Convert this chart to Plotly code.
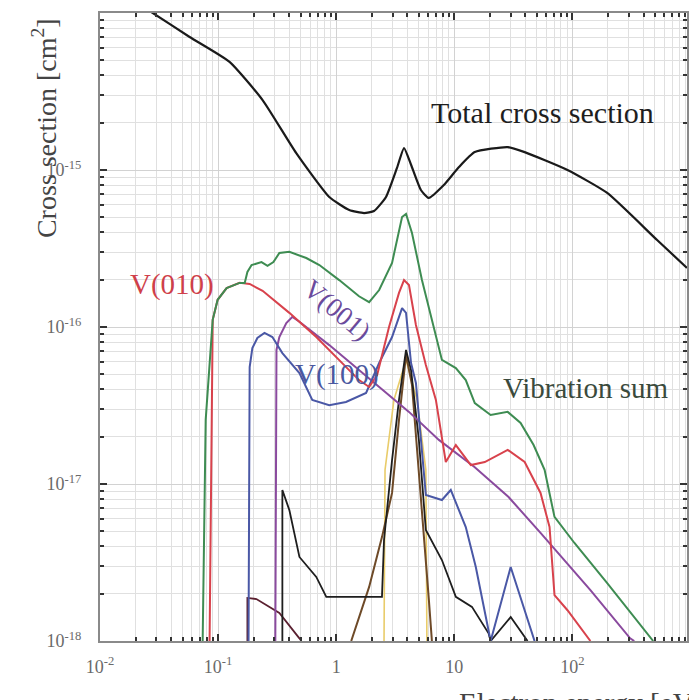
import plotly.graph_objects as go

# Electron energy [eV] and cross sections [cm^2] for each curve
total_e = [0.0201, 0.0280, 0.0574, 0.125, 0.238, 0.459, 0.873, 1.29, 1.72, 2.09, 2.64, 3.27,
           3.75, 4.30, 5.21, 6.09, 8.15, 10.9, 14.9, 28.3, 39.4, 90.8, 197, 521, 933]
total_s = [1.17e-14, 1.00e-14, 7.03e-15, 4.88e-15, 2.79e-15, 1.28e-15, 6.73e-16, 5.56e-16,
           5.32e-16, 5.48e-16, 6.73e-16, 1.03e-15, 1.38e-15, 1.08e-15, 7.46e-16, 6.64e-16,
           8.02e-16, 1.04e-15, 1.30e-15, 1.40e-15, 1.30e-15, 1.00e-15, 7.14e-16, 3.58e-16, 2.38e-16]

vsum_e = [0.0740, 0.0785, 0.0900, 0.0991, 0.118, 0.152, 0.168, 0.177, 0.192, 0.233, 0.262,
          0.294, 0.330, 0.401, 0.558, 0.720, 1.06, 1.56, 1.90, 2.31, 2.97, 3.61, 3.90, 4.38,
          5.32, 6.09, 7.85, 10.3, 12.5, 14.9, 20.3, 28.3, 36.4, 46.9, 58.1, 70.5, 104, 197, 483]
vsum_s = [1.0e-18, 2.56e-17, 1.11e-16, 1.49e-16, 1.77e-16, 1.91e-16, 1.91e-16, 2.24e-16,
          2.48e-16, 2.59e-16, 2.45e-16, 2.59e-16, 2.96e-16, 3.01e-16, 2.75e-16, 2.48e-16,
          1.99e-16, 1.57e-16, 1.44e-16, 1.72e-16, 2.56e-16, 5.02e-16, 5.25e-16, 3.97e-16,
          1.99e-16, 1.34e-16, 6.17e-17, 5.48e-17, 4.59e-17, 3.28e-17, 2.75e-17, 2.88e-17,
          2.45e-17, 1.77e-17, 1.23e-17, 6.17e-18, 4.21e-18, 2.34e-18, 1.0e-18]

v010_e = [0.0847, 0.0881, 0.0900, 0.0991, 0.118, 0.152, 0.185, 0.238, 0.401, 0.678, 1.06,
          1.56, 1.90, 2.22, 2.80, 3.40, 3.75, 4.13, 4.73, 5.74, 6.98, 7.85, 8.47, 10.3, 13.8,
          18.1, 28.3, 39.4, 53.7, 64.0, 70.5, 90.8, 142]
v010_s = [1.0e-18, 2.56e-17, 1.11e-16, 1.49e-16, 1.77e-16, 1.91e-16, 1.88e-16, 1.70e-16,
          1.23e-16, 8.63e-17, 6.17e-17, 4.59e-17, 4.15e-17, 4.94e-17, 1.0e-16, 1.65e-16,
          1.99e-16, 1.85e-16, 1.03e-16, 5.73e-17, 3.43e-17, 2.05e-17, 1.38e-17, 1.77e-17,
          1.32e-17, 1.38e-17, 1.65e-17, 1.38e-17, 8.77e-18, 5.32e-18, 1.96e-18, 1.57e-18, 1.0e-18]

v100_e = [0.181, 0.185, 0.195, 0.215, 0.247, 0.288, 0.350, 0.488, 0.627, 0.873, 1.21, 1.79,
          2.31, 2.97, 3.61, 3.90, 4.30, 4.73, 5.74, 7.85, 9.33, 12.5, 15.2, 20.3, 30.0, 47.8]
v100_s = [1.0e-18, 5.56e-17, 7.35e-17, 8.51e-17, 9.16e-17, 8.63e-17, 6.82e-17, 5.09e-17,
          3.43e-17, 3.18e-17, 3.33e-17, 3.80e-17, 5.90e-17, 8.63e-17, 1.32e-16, 1.23e-16,
          5.90e-17, 4.40e-17, 8.51e-18, 7.91e-18, 9.16e-18, 5.32e-18, 2.96e-18, 1.0e-18,
          2.96e-18, 1.0e-18]

v001_e = [0.305, 0.312, 0.330, 0.378, 0.426, 0.488, 0.873, 1.90, 4.13, 7.40, 14.9, 28.8,
          53.7, 142, 308, 334]
v001_s = [1.0e-18, 7.14e-17, 8.63e-17, 1.06e-16, 1.16e-16, 1.08e-16, 7.67e-17, 4.73e-17,
          2.88e-17, 1.91e-17, 1.28e-17, 8.26e-18, 4.88e-18, 2.11e-18, 1.04e-18, 1.0e-18]

# Higher vibrational levels (thin curves near the bottom)
vb_e = [0.350, 0.350, 0.401, 0.488, 0.678, 0.824, 2.44, 2.54, 2.97, 3.40, 3.90, 4.30, 5.01,
        5.74, 7.85, 10.3, 14.1, 19.5, 20.3, 30.0, 41.7]
vb_s = [1.0e-18, 9.16e-18, 6.82e-18, 3.43e-18, 2.56e-18, 1.91e-18, 1.91e-18, 4.40e-18,
        1.42e-17, 3.43e-17, 7.14e-17, 5.32e-17, 1.91e-17, 5.09e-18, 3.28e-18, 1.91e-18,
        1.65e-18, 1.12e-18, 1.0e-18, 1.42e-18, 1.0e-18]

vbr_e = [1.34, 1.90, 2.44, 2.97, 3.40, 3.90, 4.38, 5.01, 5.53, 6.09, 6.46]
vbr_s = [1.0e-18, 2.21e-18, 4.59e-18, 8.77e-18, 2.56e-17, 6.64e-17, 4.28e-17, 1.23e-17,
         4.40e-18, 1.82e-18, 1.0e-18]

vy_e = [2.54, 2.59, 3.08, 3.90, 4.83, 5.74, 5.86]
vy_s = [1.0e-18, 1.23e-17, 3.43e-17, 6.17e-17, 3.43e-17, 1.23e-17, 1.0e-18]

vm_e = [0.177, 0.177, 0.211, 0.330, 0.488, 0.507]
vm_s = [1.0e-18, 1.88e-18, 1.85e-18, 1.51e-18, 1.04e-18, 1.0e-18]

x_ticks = [0.01, 0.1, 1, 10, 100]
x_ticktext = ["10<sup>-2</sup>", "10<sup>-1</sup>", "1", "10", "10<sup>2</sup>"]
y_ticks = [1e-18, 1e-17, 1e-16, 1e-15, 1e-14]
y_ticktext = ["10<sup>-18</sup>", "10<sup>-17</sup>", "10<sup>-16</sup>", "10<sup>-15</sup>", ""]

SERIF = "Liberation Serif, Times New Roman, serif"

fig = go.Figure()

curves = [
    (vy_e, vy_s, "#e9cc6a", 1.6, "linear"),
    (vm_e, vm_s, "#5a2030", 1.8, "linear"),
    (vbr_e, vbr_s, "#6e4a28", 2.0, "linear"),
    (vb_e, vb_s, "#1e1e1e", 1.8, "linear"),
    (v001_e, v001_s, "#8a4a9e", 2.0, "linear"),
    (v100_e, v100_s, "#4a58a6", 2.0, "linear"),
    (v010_e, v010_s, "#d8424c", 2.0, "linear"),
    (vsum_e, vsum_s, "#3e8c52", 2.0, "linear"),
    (total_e, total_s, "#1a1a1a", 2.2, "spline"),
]
for xe, ys, col, w, shp in curves:
    fig.add_trace(go.Scatter(x=xe, y=ys, mode="lines",
                             line=dict(color=col, width=w, shape=shp, smoothing=0.5),
                             showlegend=False, hoverinfo="skip"))

minor_x = [d * 10.0 ** k for k in range(-2, 3) for d in range(2, 10)]
minor_y = [d * 10.0 ** k for k in range(-18, -14) for d in range(2, 10)]

axis_common = dict(
    type="log",
    showline=True, linecolor="#8a8a8a", linewidth=2,
    mirror="allticks",
    ticks="inside", ticklen=7, tickwidth=1.5, tickcolor="#333333",
    showgrid=True, gridcolor="#d2d2d2", gridwidth=1,
    zeroline=False,
    tickfont=dict(family=SERIF, size=18, color="#6a6a6a"),
)

fig.update_xaxes(
    **axis_common,
    range=[-2, 2.970],
    tickmode="array", tickvals=x_ticks, ticktext=x_ticktext,
    ticklabelstandoff=8,
    minor=dict(tickmode="array", tickvals=minor_x, ticks="inside", ticklen=4,
               tickcolor="#333333", showgrid=True, gridcolor="#e0e0e0", gridwidth=1),
)
fig.update_yaxes(
    **axis_common,
    range=[-18, -14],
    tickmode="array", tickvals=y_ticks, ticktext=y_ticktext,
    ticklabelstandoff=13,
    minor=dict(tickmode="array", tickvals=minor_y, ticks="inside", ticklen=4,
               tickcolor="#333333", showgrid=True, gridcolor="#e0e0e0", gridwidth=1),
)

annotations = [
    dict(text="Total cross section", x=0.754, y=0.841, color="#1e1e1e", size=30, angle=0),
    dict(text="V(010)", x=0.122, y=0.567, color="#cf3f4a", size=29, angle=0),
    dict(text="V(001)", x=0.404, y=0.527, color="#6a4a9c", size=27, angle=40),
    dict(text="V(100)", x=0.404, y=0.425, color="#4a58a0", size=29, angle=0),
    dict(text="Vibration sum", x=0.827, y=0.403, color="#3a4a3c", size=29, angle=0),
]
for a in annotations:
    fig.add_annotation(text=a["text"], x=a["x"], y=a["y"], xref="paper", yref="paper",
                       xanchor="center", yanchor="middle",
                       showarrow=False, textangle=a["angle"],
                       font=dict(family=SERIF, size=a["size"], color=a["color"]))

# Axis titles
fig.add_annotation(text="Cross section [cm<sup>2</sup>]", x=-0.0934, y=0.817,
                   xref="paper", yref="paper", xanchor="center", yanchor="middle",
                   showarrow=False, textangle=-90,
                   font=dict(family=SERIF, size=28, color="#444444"))
fig.add_annotation(text="Electron energy [eV]", x=0.608, y=-0.070,
                   xref="paper", yref="paper", xanchor="left", yanchor="top",
                   showarrow=False,
                   font=dict(family=SERIF, size=29, color="#444444"))

fig.update_layout(
    width=689, height=700,
    margin=dict(l=100, r=0, t=13, b=59),
    paper_bgcolor="white", plot_bgcolor="white",
)

fig.write_html("out.html")
